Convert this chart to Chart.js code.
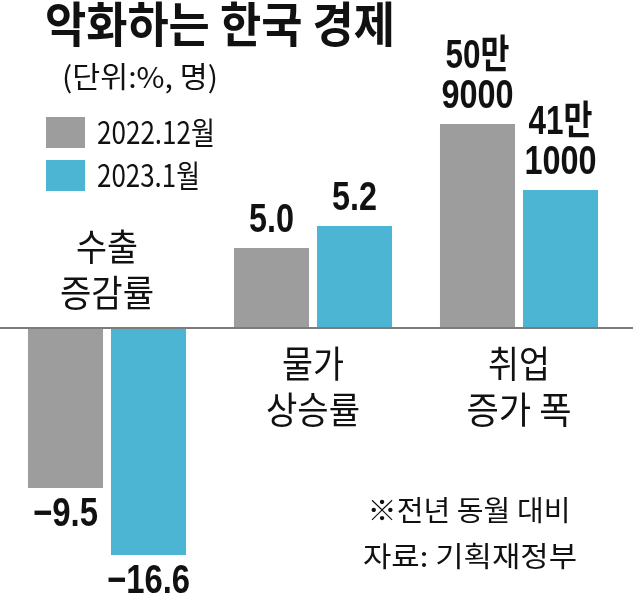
<!DOCTYPE html>
<html>
<head>
<meta charset="utf-8">
<script src="https://cdn.jsdelivr.net/npm/chart.js@4"></script>
<style>
  html, body { margin: 0; padding: 0; background: #fff; }
  #chart { display: block; }
</style>
</head>
<body>
<canvas id="chart" width="633" height="600"></canvas>
<script>
// categories (two text lines each)
const categories = [['수출', '증감률'], ['물가', '상승률'], ['취업', '증가 폭']];
const seriesNames = ['2022.12월', '2023.1월'];

// bar lengths as drawn in the graphic (it is not to one common scale)
const dec2022 = [-160, 80, 204];
const jan2023 = [-227, 102, 138];

// printed values
const dec2022Labels = [['−9.5'], ['5.0'], ['50만', '9000']];
const jan2023Labels = [['−16.6'], ['5.2'], ['41만', '1000']];

const colors = ['#9d9d9d', '#4bb5d3'];

/* draws text squeezed to a given width (the original uses a condensed face) */
function squeezed(ctx, str, x, y, font, width, align) {
    ctx.save();
    ctx.font = font;
    ctx.textBaseline = 'middle';
    ctx.textAlign = 'left';
    const w = ctx.measureText(str).width;
    const sx = width ? width / w : 1;
    let left = x;
    if (align === 'center') left = x - w * sx / 2;
    ctx.translate(left, y);
    ctx.scale(sx, 1);
    ctx.fillStyle = '#111';
    ctx.fillText(str, 0, 0);
    ctx.restore();
}

// rough width of a value label in the condensed face
function valueWidth(s) {
    let w = 0;
    for (const c of s) {
        if (c === '−') w += 20;
        else if (c === '.') w += 9;
        else if (/[0-9]/.test(c)) w += 18;
        else w += 28;
    }
    return w;
}

const KR = '"Noto Sans CJK KR", "Noto Sans", sans-serif';
const NUM = '"Liberation Sans", Arial, "Noto Sans CJK KR", sans-serif';

const textPlugin = {
    id: 'texts',
    afterDatasetsDraw(chart) {
        const ctx = chart.ctx;
        const y = chart.scales.y;
        const zero = y.getPixelForValue(0);

        // zero line across the whole width
        ctx.save();
        ctx.strokeStyle = '#7c7c7c';
        ctx.lineWidth = 2;
        ctx.beginPath();
        ctx.moveTo(0, zero);
        ctx.lineTo(chart.width, zero);
        ctx.stroke();
        ctx.restore();

        // title, unit
        squeezed(ctx, '악화하는 한국 경제', 45, 24, 'bold 48px ' + KR, 350);
        squeezed(ctx, '(단위:%, 명)', 62, 77, '29px ' + KR, 156);

        // legend
        const legendY = [132, 175];
        seriesNames.forEach((name, i) => {
            ctx.fillStyle = colors[i];
            ctx.fillRect(46, legendY[i] - 15, 39, 31);
            squeezed(ctx, name, 97, legendY[i], '31px ' + KR, i === 0 ? 118 : 103);
        });

        // category names
        const meta0 = chart.getDatasetMeta(0);
        const meta1 = chart.getDatasetMeta(1);
        categories.forEach((lines, i) => {
            const cx = (meta0.data[i].x + meta1.data[i].x) / 2;
            const above = dec2022[i] < 0;
            const y0 = above ? 247 : 364;
            lines.forEach((line, k) => {
                const w = line.length === 2 ? 62 : (line.length === 3 ? 94 : 105);
                squeezed(ctx, line, cx, y0 + k * 46, '37px ' + KR, w, 'center');
            });
        });

        // value labels
        [dec2022Labels, jan2023Labels].forEach((labels, d) => {
            const meta = chart.getDatasetMeta(d);
            labels.forEach((lines, i) => {
                const bar = meta.data[i];
                const neg = bar.y > bar.base;
                lines.forEach((line, k) => {
                    const n = lines.length;
                    const ty = neg ? bar.y + 27 + k * 40 : bar.y - 27 - (n - 1 - k) * 40;
                    squeezed(ctx, line, bar.x, ty, 'bold 40px ' + NUM, valueWidth(line), 'center');
                });
            });
        });

        // notes
        squeezed(ctx, '※전년 동월 대비', 469, 510, '28px ' + KR, 203, 'center');
        squeezed(ctx, '자료: 기획재정부', 470, 556, '28px ' + KR, 214, 'center');
    }
};

new Chart(document.getElementById('chart'), {
    type: 'bar',
    data: {
        labels: categories,
        datasets: [
            { label: seriesNames[0], data: dec2022, backgroundColor: colors[0] },
            { label: seriesNames[1], data: jan2023, backgroundColor: colors[1] }
        ]
    },
    options: {
        responsive: false,
        animation: false,
        devicePixelRatio: 1,
        layout: { padding: { left: 4, right: 11, top: 0, bottom: 0 } },
        barPercentage: 0.904,
        categoryPercentage: 0.806,
        plugins: {
            legend: { display: false },
            tooltip: { enabled: false }
        },
        scales: {
            x: { display: false },
            y: { display: false, min: -272, max: 328 }
        }
    },
    plugins: [textPlugin]
});
</script>
</body>
</html>
